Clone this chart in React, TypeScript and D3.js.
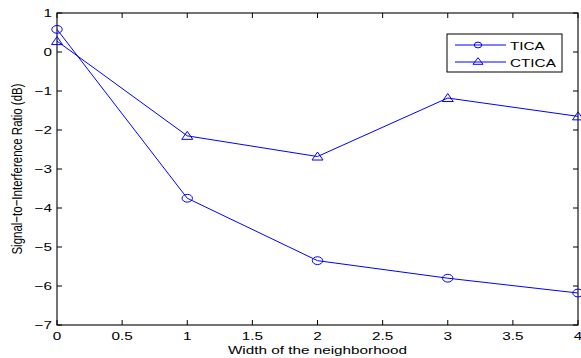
import React from "react";
import * as d3 from "d3";

const xValues = [0, 1, 2, 3, 4];
const ticaValues = [0.58, -3.75, -5.35, -5.8, -6.18];
const cticaValues = [0.28, -2.15, -2.68, -1.18, -1.65];
const xTicks = [0, 0.5, 1, 1.5, 2, 2.5, 3, 3.5, 4];
const yTicks = [1, 0, -1, -2, -3, -4, -5, -6, -7];
const seriesNames = ["TICA", "CTICA"];

const W = 581, H = 358;
const L = 57, R = 578, T = 13, B = 325;
const blue = "#0000ff";
const font = "'Liberation Sans', Arial, Helvetica, sans-serif";
const SX = 1.33;
const FS = 11.5;

function triPath(cx: number, cy: number, hw = 5.5, up = 4.5, down = 3.5) {
  return `M${cx},${cy - up}L${cx + hw},${cy + down}L${cx - hw},${cy + down}Z`;
}

function T2({ x, y, anchor = "start", children }: { x: number; y: number; anchor?: string; children: React.ReactNode }) {
  return (
    <text transform={`translate(${x},${y}) scale(${SX},1)`} fontSize={FS} fontFamily={font} textAnchor={anchor}>
      {children}
    </text>
  );
}

export default function App() {
  const x = d3.scaleLinear().domain([0, 4]).range([L, R]);
  const y = d3.scaleLinear().domain([-7, 1]).range([B, T]);
  const line = d3.line<number>().x((_, i) => x(xValues[i])).y((d) => y(d));
  const fmt = (v: number) => (v < 0 ? "\u2212" + Math.abs(v) : String(v));
  const tl = 5;
  return (
    <svg width={W} height={H} style={{ position: "absolute", left: 0, top: 0, background: "#fff" }}>
      <rect x={0} y={0} width={W} height={H} fill="#fff" />
      {xTicks.map((t) => (
        <g key={"x" + t}>
          <line x1={x(t)} x2={x(t)} y1={B} y2={B - tl} stroke="#000" />
          <line x1={x(t)} x2={x(t)} y1={T} y2={T + tl} stroke="#000" />
          <T2 x={x(t)} y={B + 15} anchor="middle">{fmt(t)}</T2>
        </g>
      ))}
      {yTicks.map((t) => (
        <g key={"y" + t}>
          <line x1={L} x2={L + tl} y1={y(t)} y2={y(t)} stroke="#000" />
          <line x1={R} x2={R - tl} y1={y(t)} y2={y(t)} stroke="#000" />
          <T2 x={L - 5} y={y(t) + 4} anchor="end">{fmt(t)}</T2>
        </g>
      ))}
      <rect x={L} y={T} width={R - L} height={B - T} fill="none" stroke="#000" strokeWidth={1.1} />
      <path d={line(ticaValues) || ""} fill="none" stroke={blue} strokeWidth={1} />
      <path d={line(cticaValues) || ""} fill="none" stroke={blue} strokeWidth={1} />
      {ticaValues.map((v, i) => (
        <ellipse key={"c" + i} cx={x(xValues[i])} cy={y(v)} rx={5.2} ry={3.9} fill="none" stroke={blue} />
      ))}
      {cticaValues.map((v, i) => (
        <path key={"t" + i} d={triPath(x(xValues[i]), y(v))} fill="none" stroke={blue} />
      ))}
      <g>
        <rect x={447} y={34} width={115} height={38} fill="#fff" stroke="#000" />
        <line x1={455} x2={506} y1={45} y2={45} stroke={blue} />
        <ellipse cx={478} cy={45} rx={3.7} ry={2.9} fill="none" stroke={blue} />
        <T2 x={510} y={49.5}>{seriesNames[0]}</T2>
        <line x1={455} x2={506} y1={62} y2={62} stroke={blue} />
        <path d={triPath(478, 61.5, 5, 3.8, 2.8)} fill="none" stroke={blue} />
        <T2 x={510} y={66.5}>{seriesNames[1]}</T2>
      </g>
      <T2 x={(L + R) / 2} y={354} anchor="middle">Width of the neighborhood</T2>
      <text transform={`translate(22,${(T + B) / 2}) scale(${SX},1) rotate(-90)`} fontSize={FS} fontFamily={font} textAnchor="middle">Signal−to−Interference Ratio (dB)</text>
    </svg>
  );
}
